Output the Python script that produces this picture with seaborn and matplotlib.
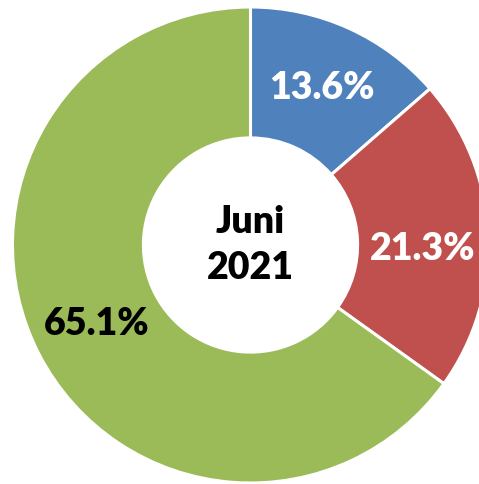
import matplotlib
matplotlib.use("Agg")
import matplotlib.pyplot as plt
import seaborn as sns

sns.set_theme(style="white")
plt.rcParams["font.family"] = ["Lato", "DejaVu Sans"]

# Share of each category, June 2021 (percent)
categories = ["Kategorie A", "Kategorie B", "Kategorie C"]
shares = [13.6, 21.3, 65.1]
colors = ["#4F81BD", "#C0504D", "#9BBB59"]
label_colors = ["white", "white", "black"]
center_label = "Juni\n2021"

W, H = 479, 484
fig = plt.figure(figsize=(W / 100, H / 100), dpi=100)
fig.patch.set_facecolor("white")

# Pie centred at (250.5, 245) px from top-left, outer radius 238 px
cx, cy, R = 250.5, H - 245, 238
ax = fig.add_axes([(cx - R) / W, (cy - R) / H, 2 * R / W, 2 * R / H])
ax.axis("off")

wedges, texts, autotexts = ax.pie(
    shares,
    labels=None,
    colors=colors,
    startangle=90,
    counterclock=False,
    radius=1.0,
    autopct="%.1f%%",
    pctdistance=0.725,
    wedgeprops=dict(width=0.55, edgecolor="white", linewidth=2.2),
    textprops=dict(fontsize=27, fontweight="heavy"),
    frame=False,
)
ax.set_xlim(-1, 1)
ax.set_ylim(-1, 1)
ax.set_aspect("auto")

for t, c in zip(autotexts, label_colors):
    t.set_color(c)

# the 21.3% label sits a little lower on its wedge
x, y = autotexts[1].get_position()
autotexts[1].set_position((x, y - 0.05))

ax.text(0, 0, center_label, ha="center", va="center", fontsize=27,
        fontweight="heavy", color="black", linespacing=1.45)

fig.savefig("out.png", dpi=100, facecolor="white")
